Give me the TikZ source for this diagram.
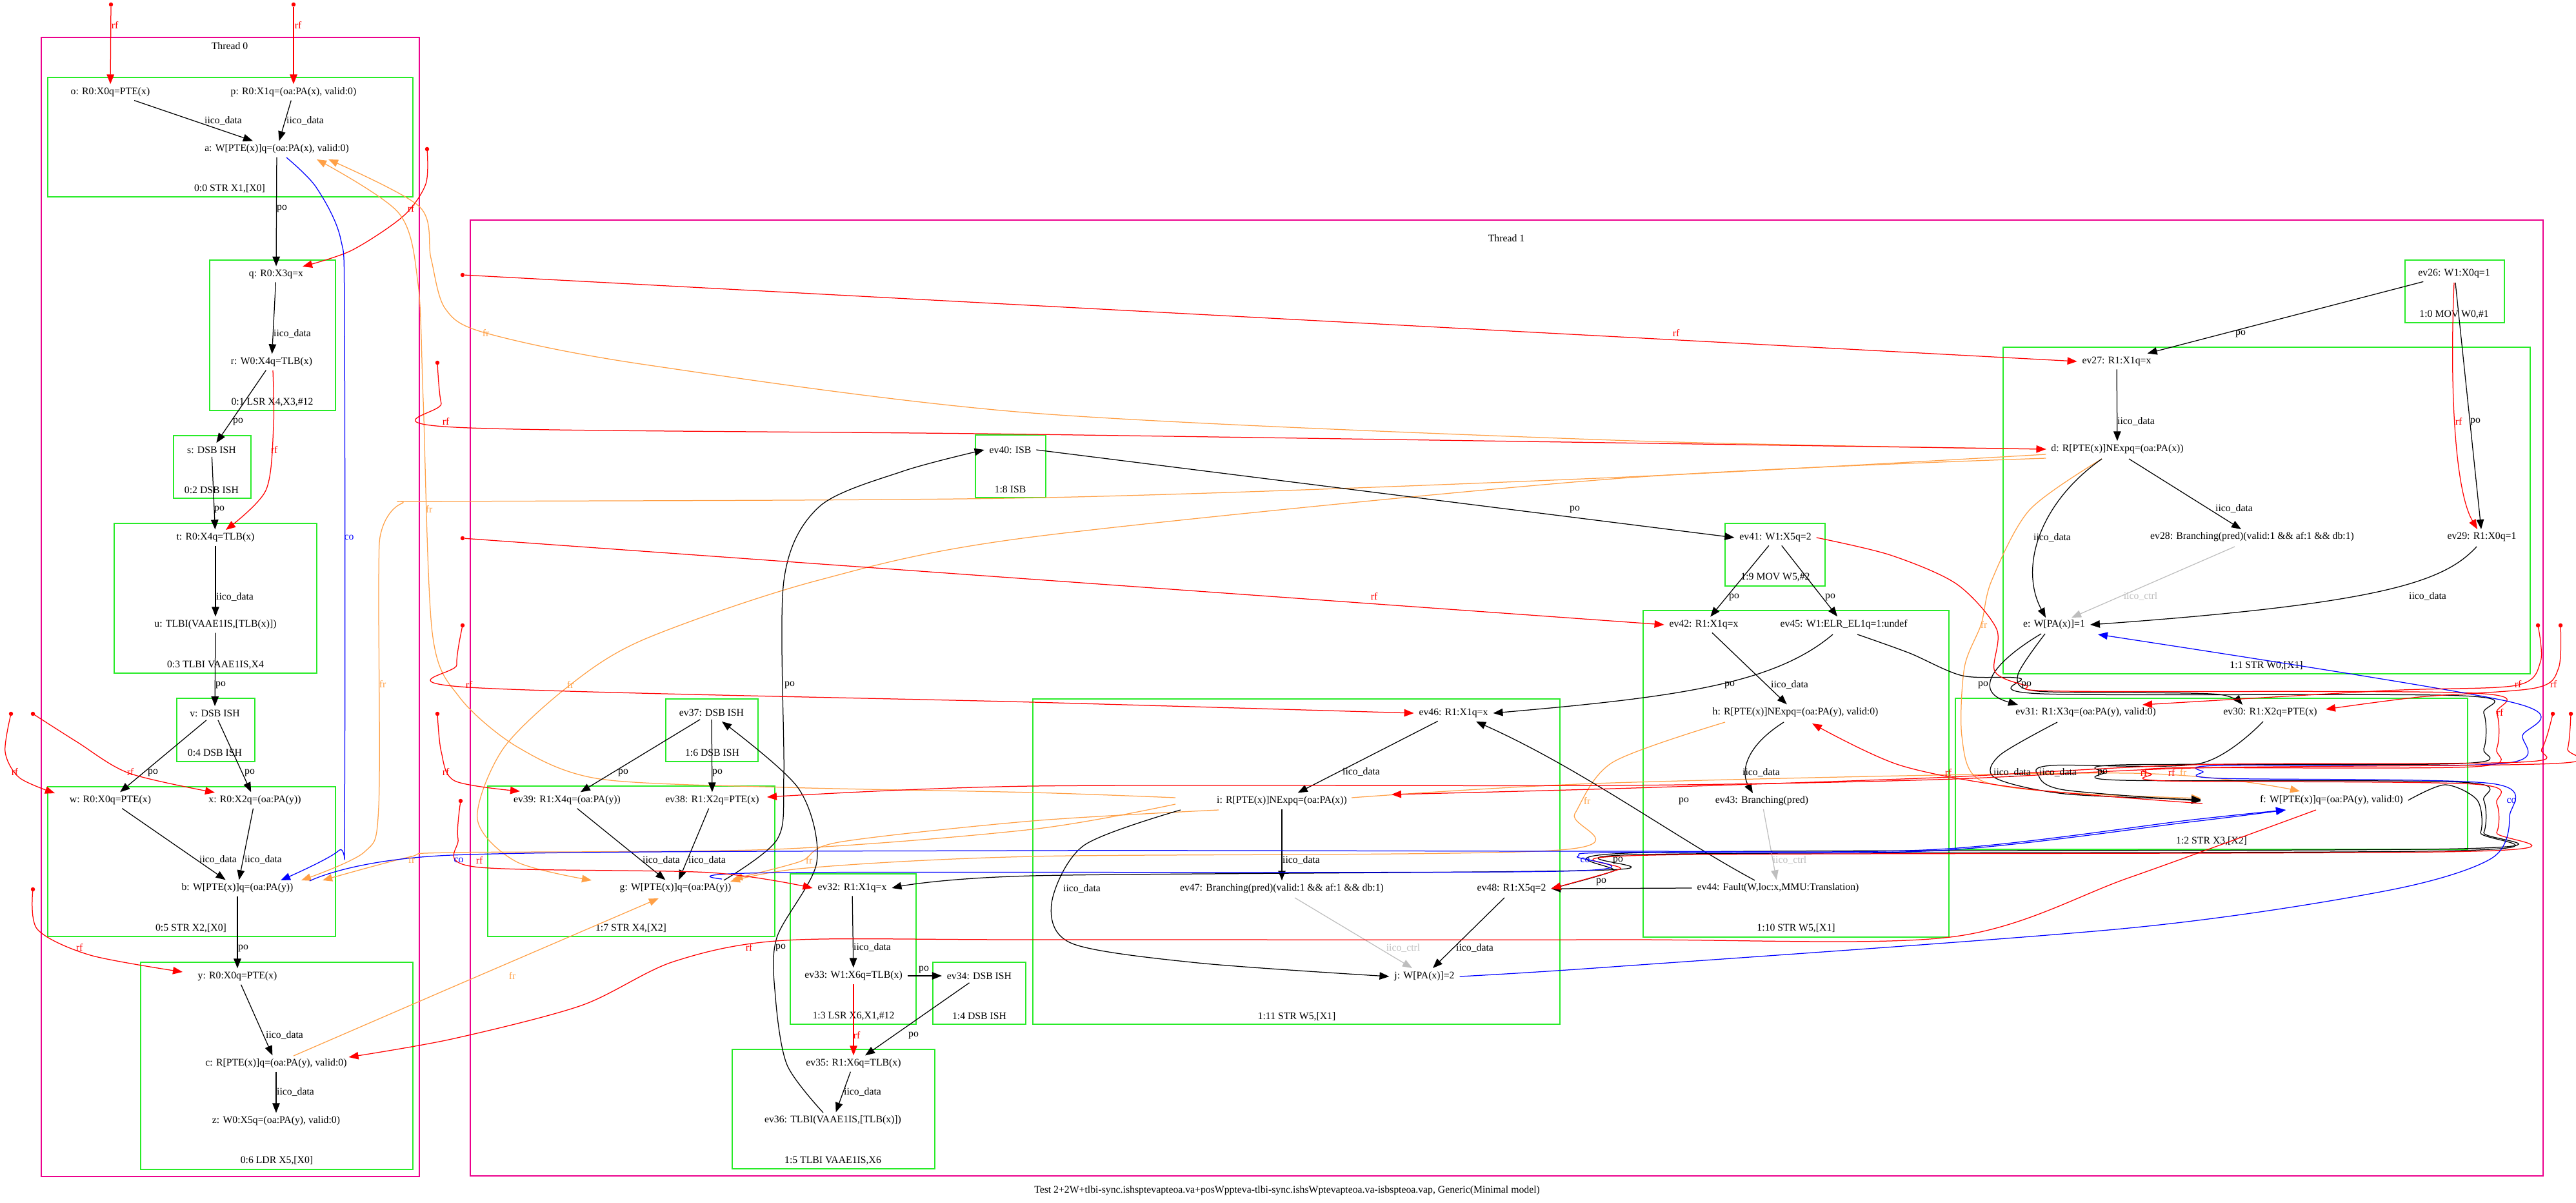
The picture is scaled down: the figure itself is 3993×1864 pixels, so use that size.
\documentclass[tikz,border=0pt]{standalone}
\usepackage{fontspec}
\setmainfont{Liberation Serif}
\usetikzlibrary{arrows.meta,calc}
\definecolor{clgreen}{RGB}{40,235,40}
\definecolor{frorange}{RGB}{255,160,70}
\definecolor{ctrlgray}{RGB}{190,190,190}
\newcommand\evf{\fontsize{6.3}{7.5}\selectfont}
\begin{document}
\begin{tikzpicture}[x=0.4pt,y=-0.4pt,
  ev/.style={inner xsep=3pt,inner ysep=2pt,font=\evf},
  lb/.style={font=\evf,inner sep=0pt},
  clbox/.style={draw=clgreen,line width=0.6pt},
  thbox/.style={draw=magenta,line width=0.6pt},
  arrhead/.style={-{Triangle[length=6pt,width=4.6pt]}},
  blk/.style={draw=black,line width=0.5pt,arrhead},
  rfe/.style={draw=red,line width=0.5pt,arrhead},
  fre/.style={draw=frorange,line width=0.5pt,arrhead},
  coe/.style={draw=blue,line width=0.5pt,arrhead},
  cte/.style={draw=ctrlgray,line width=0.5pt,arrhead},
  rdot/.style={circle,fill=red,inner sep=0pt,minimum size=2.6pt}]
\useasboundingbox (0,0) rectangle (3993,1864);
% ---------------- clusters ----------------
\draw[thbox] (64,58) rectangle (650,1823);
\node[lb] at (356,71) {Thread 0};
\draw[clbox] (74,120) rectangle (640,305);   \node[lb] at (356,292) {0:0 STR X1,[X0]};
\draw[clbox] (325,403) rectangle (520,636);  \node[lb] at (422,623) {0:1 LSR X4,X3,\#12};
\draw[clbox] (269,675) rectangle (389,772);  \node[lb] at (328,759) {0:2 DSB ISH};
\draw[clbox] (177,811) rectangle (491,1043); \node[lb] at (334,1030) {0:3 TLBI VAAE1IS,X4};
\draw[clbox] (274,1082) rectangle (395,1180);\node[lb] at (333,1166) {0:4 DSB ISH};
\draw[clbox] (74,1219) rectangle (520,1451); \node[lb] at (296,1438) {0:5 STR X2,[X0]};
\draw[clbox] (218,1491) rectangle (640,1812);\node[lb] at (429,1798) {0:6 LDR X5,[X0]};
\draw[thbox] (729,341) rectangle (3942,1822);
\node[lb] at (2335,369) {Thread 1};
\draw[clbox] (3728,403) rectangle (3882,500);  \node[lb] at (3804,487) {1:0 MOV W0,\#1};
\draw[clbox] (3105,538) rectangle (3922,1044); \node[lb] at (3513,1031) {1:1 STR W0,[X1]};
\draw[clbox] (3031,1082) rectangle (3825,1316);\node[lb] at (3428,1303) {1:2 STR X3,[X2]};
\draw[clbox] (1225,1354) rectangle (1420,1587);\node[lb] at (1323,1574) {1:3 LSR X6,X1,\#12};
\draw[clbox] (1446,1491) rectangle (1590,1587);\node[lb] at (1518,1574) {1:4 DSB ISH};
\draw[clbox] (1135,1626) rectangle (1449,1811);\node[lb] at (1291,1798) {1:5 TLBI VAAE1IS,X6};
\draw[clbox] (1032,1083) rectangle (1175,1180);\node[lb] at (1104,1166) {1:6 DSB ISH};
\draw[clbox] (756,1218) rectangle (1201,1451); \node[lb] at (978,1438) {1:7 STR X4,[X2]};
\draw[clbox] (1512,674) rectangle (1621,771);  \node[lb] at (1566,758) {1:8 ISB};
\draw[clbox] (2674,811) rectangle (2829,908);  \node[lb] at (2752,894) {1:9 MOV W5,\#2};
\draw[clbox] (2547,946) rectangle (3021,1452); \node[lb] at (2784,1438) {1:10 STR W5,[X1]};
\draw[clbox] (1601,1083) rectangle (2418,1587);\node[lb] at (2010,1575) {1:11 STR W5,[X1]};
\node[lb] at (1995,1845) {Test 2+2W+tlbi-sync.ishsptevapteoa.va+posWppteva-tlbi-sync.ishsWptevapteoa.va-isbspteoa.vap, Generic(Minimal model)};
% ---------------- nodes thread 0 ----------------
\node[ev] (o) at (171,143) {o: R0:X0q=PTE(x)};
\node[ev] (p) at (455,143) {p: R0:X1q=(oa:PA(x), valid:0)};
\node[ev] (a) at (429,231) {a: W[PTE(x)]q=(oa:PA(x), valid:0)};
\node[ev] (q) at (428,425) {q: R0:X3q=x};
\node[ev] (r) at (421,561) {r: W0:X4q=TLB(x)};
\node[ev] (s) at (328,697) {s: DSB ISH};
\node[ev] (t) at (334,833) {t: R0:X4q=TLB(x)};
\node[ev] (u) at (334,968) {u: TLBI(VAAE1IS,[TLB(x)])};
\node[ev] (v) at (333,1105) {v: DSB ISH};
\node[ev] (w) at (171,1240) {w: R0:X0q=PTE(x)};
\node[ev] (x) at (395,1240) {x: R0:X2q=(oa:PA(y))};
\node[ev] (b) at (368,1376) {b: W[PTE(x)]q=(oa:PA(y))};
\node[ev] (y) at (368,1513) {y: R0:X0q=PTE(x)};
\node[ev] (c) at (428,1648) {c: R[PTE(x)]q=(oa:PA(y), valid:0)};
\node[ev] (z) at (428,1737) {z: W0:X5q=(oa:PA(y), valid:0)};
% ---------------- nodes thread 1 ----------------
\node[ev] (ev26) at (3804,424) {ev26: W1:X0q=1};
\node[ev] (ev27) at (3281,560) {ev27: R1:X1q=x};
\node[ev] (d) at (3282,696) {d: R[PTE(x)]NExpq=(oa:PA(x))};
\node[ev] (ev28) at (3491,832) {ev28: Branching(pred)(valid:1 \&\& af:1 \&\& db:1)};
\node[ev] (ev29) at (3847,832) {ev29: R1:X0q=1};
\node[ev] (e) at (3184,968) {e: W[PA(x)]=1};
\node[ev] (ev31) at (3233,1104) {ev31: R1:X3q=(oa:PA(y), valid:0)};
\node[ev] (ev30) at (3519,1104) {ev30: R1:X2q=PTE(x)};
\node[ev] (f) at (3614,1240) {f: W[PTE(x)]q=(oa:PA(y), valid:0)};
\node[ev] (ev32) at (1321,1376) {ev32: R1:X1q=x};
\node[ev] (ev33) at (1323,1512) {ev33: W1:X6q=TLB(x)};
\node[ev] (ev34) at (1518,1512) {ev34: DSB ISH};
\node[ev] (ev35) at (1323,1648) {ev35: R1:X6q=TLB(x)};
\node[ev] (ev36) at (1291,1736) {ev36: TLBI(VAAE1IS,[TLB(x)])};
\node[ev] (ev37) at (1103,1104) {ev37: DSB ISH};
\node[ev] (ev39) at (879,1240) {ev39: R1:X4q=(oa:PA(y))};
\node[ev] (ev38) at (1104,1240) {ev38: R1:X2q=PTE(x)};
\node[ev] (g) at (1047,1376) {g: W[PTE(x)]q=(oa:PA(y))};
\node[ev] (ev40) at (1566,697) {ev40: ISB};
\node[ev] (ev41) at (2752,833) {ev41: W1:X5q=2};
\node[ev] (ev42) at (2641,968) {ev42: R1:X1q=x};
\node[ev] (ev45) at (2858,968) {ev45: W1:ELR\_EL1q=1:undef};
\node[ev] (h) at (2783,1104) {h: R[PTE(x)]NExpq=(oa:PA(y), valid:0)};
\node[ev] (ev43) at (2731,1241) {ev43: Branching(pred)};
\node[ev] (ev44) at (2756,1376) {ev44: Fault(W,loc:x,MMU:Translation)};
\node[ev] (ev46) at (2253,1105) {ev46: R1:X1q=x};
\node[ev] (i) at (1987,1241) {i: R[PTE(x)]NExpq=(oa:PA(x))};
\node[ev] (ev47) at (1987,1377) {ev47: Branching(pred)(valid:1 \&\& af:1 \&\& db:1)};
\node[ev] (ev48) at (2343,1377) {ev48: R1:X5q=2};
\node[ev] (j) at (2208,1513) {j: W[PA(x)]=2};
% ---------------- initial-state dots ----------------
\node[rdot] (d0a) at (172,7) {};
\node[rdot] (d0b) at (455,7) {};
\node[rdot] (d0c) at (662,231) {};
\node[rdot] (d0d) at (17,1106) {};
\node[rdot] (d0e) at (51,1106) {};
\node[rdot] (d0f) at (51,1378) {};
\node[rdot] (d1a) at (678,562) {};
\node[rdot] (d1b) at (717,426) {};
\node[rdot] (d1c) at (717,834) {};
\node[rdot] (d1d) at (717,969) {};
\node[rdot] (d1e) at (678,1106) {};
\node[rdot] (d1f) at (714,1241) {};
\node[rdot] (d1g) at (3934,969) {};
\node[rdot] (d1h) at (3969,969) {};
\node[rdot] (d1i) at (3957,1106) {};
\node[rdot] (d1j) at (3985,1106) {};
% ---------------- thread 0 edges ----------------
\draw[rfe] (d0a) -- (o);
\draw[rfe] (d0b) -- (p);
\draw[blk] (o) -- (a);
\draw[blk] (p) -- (a);
\draw[blk] (a) -- (q);
\draw[rfe] plot[smooth] coordinates {(d0c) (660,285) (625,335) (545,388) ($(q)+(41,-12)$)};
\draw[blk] (q) -- (r);
\draw[blk] (r) -- (s);
\draw[rfe] plot[smooth] coordinates {($(r)+(2,13)$) (424,660) (412,760) ($(t)+(16,-12)$)};
\draw[blk] (s) -- (t);
\draw[blk] (t) -- (u);
\draw[blk] (u) -- (v);
\draw[blk] (v) -- (w);
\draw[blk] (v) -- (x);
\draw[rfe] plot[smooth] coordinates {(d0d) (8,1165) (30,1205) ($(w)+(-86,-11)$)};
\draw[rfe] plot[smooth] coordinates {(d0e) (120,1150) (200,1198) ($(x)+(-62,-12)$)};
\draw[blk] (w) -- (b);
\draw[blk] (x) -- (b);
\draw[blk] (b) -- (y);
\draw[rfe] plot[smooth] coordinates {(d0f) (58,1440) (140,1480) ($(y)+(-85,-7)$)};
\draw[blk] (y) -- (c);
\draw[blk] (c) -- (z);
\draw[coe] plot[smooth] coordinates {($(a)+(15,13)$) (490,290) (528,370) (534,500) (534,1270) (525,1318) ($(b)+(67,-12)$)};
% ---------------- fr edges ----------------
\draw[fre] plot[smooth] coordinates {(d.west) (2500,682) (1600,640) (1000,565) (753,516) (690,478) (668,400) (650,320) ($(a)+(80,16)$)};
\draw[fre] plot[smooth] coordinates {($(i)+(-165,-5)$) (1600,1228) (1217,1220) (930,1207) (803,1158) (712,1080) (670,980) (656,620) (648,440) (618,330) ($(a)+(62,16)$)};
\draw[fre] plot[smooth] coordinates {($(d.west)+(0,8)$) (2500,740) (1621,771) (700,777) (623,780) (592,820) (587,900) (587,1250) (565,1320) ($(b)+(99,-12)$)};
\draw[fre] plot[smooth] coordinates {($(i)+(-165,5)$) (1600,1285) (1200,1316) (700,1321) (634,1328) ($(b)+(132,-12)$)};
\draw[fre] plot[smooth] coordinates {($(d.west)+(0,14)$) (2500,742) (1600,832) (1265,900) (1000,990) (884,1061) (780,1160) (740,1269) (800,1335) ($(g)+(-130,-12)$)};
\draw[fre] ($(c)+(27,-12)$) -- (700,1530) -- ($(g)+(-26,16)$);
\draw[fre] plot[smooth] coordinates {($(i)+(-98,14)$) (1600,1272) (1300,1305) (1240,1335) ($(g)+(89,-14)$)};
\draw[fre] plot[smooth] coordinates {($(h)+(-109,15)$) (2500,1181) (2441,1261) (2418,1317) (1600,1327) (1250,1345) ($(g)+(85,-10)$)};
\draw[fre] plot[smooth] coordinates {($(d)+(-24,15)$) (3146,790) (3087,900) (3071,967) (3045,1034) (3041,1141) (3068,1208) (3200,1228) ($(f)+(-202,-3)$)};
\draw[fre] plot[smooth] coordinates {($(i)+(108,-5)$) (2500,1213) (3300,1198) ($(f)+(-49,-14)$)};
% ---------------- thread 1 black / gray edges ----------------
\draw[blk] (ev26) -- (ev27);
\draw[blk] ($(ev26)+(2,14)$) -- ($(ev29)+(-1,-12)$);
\draw[rfe] ($(ev26)+(0,14)$) .. controls (3797,600) and (3805,760) .. ($(ev29)+(-7,-12)$);
\draw[blk] (ev27) -- (d);
\draw[blk] ($(d)+(-24,15)$) .. controls (3160,780) and (3130,880) .. ($(e)+(-13,-11)$);
\draw[blk] ($(d)+(18,15)$) -- ($(ev28)+(-17,-12)$);
\draw[cte] ($(ev28)+(-27,15)$) -- ($(e)+(27,-11)$);
\draw[blk] ($(ev29)+(-8,15)$) .. controls (3790,900) and (3700,935) .. (e.east);
\draw[blk] ($(e)+(-20,14)$) .. controls (3100,1020) and (3050,1070) .. ($(ev31)+(-105,-12)$);
\draw[blk] plot[smooth] coordinates {($(e)+(-14,14)$) (3128,1045) (3150,1070) (3300,1073) (3440,1076) ($(ev30)+(-43,-12)$)};
\draw[blk] plot[smooth] coordinates {($(ev31)+(-44,15)$) (3100,1170) (3092,1205) (3200,1230) ($(f)+(-202,-1)$)};
\draw[blk] plot[smooth] coordinates {($(ev30)+(-11,14)$) (3410,1183) (3180,1186) (3160,1202) (3200,1224) ($(f)+(-202,1)$)};
\draw[blk] plot[smooth] coordinates {(f.east) (3790,1216) (3840,1240) (3845,1290) (3810,1318) (2545,1324) (2490,1348) (1600,1357) (ev32.east)};
\draw[blk] (ev32) -- (ev33);
\draw[blk] (ev33) -- (ev34);
\draw[rfe] (ev33) -- (ev35);
\draw[blk] (ev34) -- (ev35);
\draw[blk] (ev35) -- (ev36);
\draw[blk] plot[smooth] coordinates {($(ev36)+(-15,-12)$) (1220,1650) (1202,1545) (1204,1453) (1266,1336) (1238,1222) ($(ev37)+(16,14)$)};
\draw[blk] (ev37) -- (ev39);
\draw[blk] (ev37) -- (ev38);
\draw[blk] (ev39) -- (g);
\draw[blk] (ev38) -- (g);
\draw[blk] plot[smooth] coordinates {($(g)+(75,-12)$) (1205,1300) (1215,1200) (1215,900) (1270,785) (1400,730) (ev40.west)};
\draw[blk] (ev40.east) -- (ev41.west);
\draw[blk] (ev41) -- (ev42);
\draw[blk] (ev41) -- (ev45);
\draw[blk] (ev42) -- (h);
\draw[blk] ($(ev45)+(-17,15)$) .. controls (2750,1060) and (2600,1080) .. (ev46.east);
\draw[blk] ($(h)+(-18,15)$) .. controls (2700,1160) and (2700,1200) .. ($(ev43)+(-14,-12)$);
\draw[cte] (ev43) -- (ev44);
\draw[blk] ($(ev44)+(-36,-12)$) .. controls (2600,1300) and (2450,1190) .. ($(ev46)+(35,13)$);
\draw[blk] (ev44.west) -- (ev48.east);
\draw[blk] (ev46) -- (i);
\draw[blk] (i) -- (ev47);
\draw[blk] plot[smooth] coordinates {($(i)+(-157,14)$) (1680,1310) (1630,1400) (1662,1462) (1857,1492) (j.west)};
\draw[cte] ($(ev47)+(20,14)$) -- ($(j)+(-19,-13)$);
\draw[blk] ($(ev48)+(-11,14)$) -- ($(j)+(13,-13)$);
% snake edges round the right side
\draw[blk] plot[smooth] coordinates {($(ev45)+(21,15)$) (2960,1012) (3042,1047) (3131,1051) (3165,1075) (3815,1078) (3850,1105) (3850,1160) (3815,1183) (3290,1185) (3262,1197) (3290,1209) (3815,1212) (3850,1240) (3850,1290) (3815,1315) (2550,1321) (2500,1350) (ev48.east)};
\draw[rfe] plot[smooth] coordinates {(ev41.east) (2930,860) (3033,905) (3095,975) (3092,1040) (3140,1062) (3200,1071) (3835,1074) (3870,1105) (3870,1160) (3835,1188) (3360,1190) (3335,1200) (3360,1210) (3835,1215) (3870,1245) (3870,1290) (3835,1319) (2560,1325) (2510,1347) (ev48.east)};
\draw[coe] plot[smooth] coordinates {(j.east) (2500,1498) (3300,1438) (3700,1380) (3862,1330) (3890,1265) (3862,1214) (3440,1206) (3415,1196) (3440,1186) (3880,1183) (3910,1140) (3893,1088) ($(e.east)+(12,15)$)};
\draw[coe] plot[smooth] coordinates {($(b)+(112,-11)$) (700,1325) (1600,1318) (2500,1319) (3004,1316) (3400,1270) ($(f)+(-71,15)$)};
\draw[coe] plot[smooth] coordinates {($(g)+(72,-14)$) (1217,1352) (2418,1350) (2445,1327) (2500,1321) (3004,1318) (3400,1273) ($(f)+(-71,15)$)};
% ---------------- thread 1 rf edges ----------------
\draw[rfe] plot[smooth] coordinates {(d1a) (684,625) (705,662) (1600,673) (d.west)};
\draw[rfe] (d1b) -- (ev27.west);
\draw[rfe] (d1c) -- (ev42.west);
\draw[rfe] plot[smooth] coordinates {(d1d) (708,1030) (727,1065) (1600,1088) (ev46.west)};
\draw[rfe] plot[smooth] coordinates {(d1e) (684,1165) (705,1210) ($(ev39)+(-73,-14)$)};
\draw[rfe] plot[smooth] coordinates {(d1f) (710,1300) (735,1343) (1100,1352) (ev32.west)};
\draw[rfe] plot[smooth] coordinates {(d1g) (3938,1025) (3900,1062) (3700,1070) ($(ev31)+(88,-12)$)};
\draw[rfe] plot[smooth] coordinates {(d1h) (3966,1035) (3930,1066) (3750,1080) ($(ev30)+(86,-5)$)};
\draw[rfe] plot[smooth] coordinates {(d1i) (3940,1160) (3905,1181) (3400,1185) (3000,1205) (2500,1222) ($(i)+(170,-10)$)};
\draw[rfe] plot[smooth] coordinates {(d1j) (3980,1160) (3960,1183) (3400,1190) (3000,1208) (2500,1217) (1600,1218) ($(ev38)+(85,-5)$)};
\draw[rfe] plot[smooth] coordinates {($(f)+(-24,15)$) (3300,1360) (3023,1452) (2500,1456) (1600,1456) (1217,1457) (1044,1490) (901,1558) (700,1610) ($(c.east)+(-5,-10)$)};
\draw[rfe] plot[smooth] coordinates {($(f)+(-200,5)$) (3138,1222) (2946,1186) ($(h)+(26,17)$)};
% ---------------- edge labels ----------------
\begin{scope}[every node/.style={lb}]
\node[text=red] at (178,39) {rf}; \node[text=red] at (462,39) {rf};
\node at (346,187) {iico\_data}; \node at (473,187) {iico\_data};
\node at (437,323) {po}; \node[text=red] at (637,323) {rf};
\node at (453,517) {iico\_data}; \node at (369,653) {po};
\node[text=red] at (425,697) {rf}; \node at (340,789) {po};
\node[text=blue] at (541,833) {co}; \node at (364,925) {iico\_data};
\node at (342,1061) {po};
\node[text=frorange] at (593,1060) {fr}; \node[text=frorange] at (665,789) {fr};
\node[text=red] at (23,1196) {rf}; \node[text=red] at (202,1196) {rf};
\node at (237,1197) {po}; \node at (387,1197) {po};
\node at (338,1332) {iico\_data}; \node at (408,1332) {iico\_data};
\node[text=frorange] at (638,1332) {fr};
\node at (377,1469) {po}; \node[text=red] at (123,1468) {rf};
\node at (441,1604) {iico\_data}; \node at (458,1692) {iico\_data};
\node[text=frorange] at (753,516) {fr};
\node[text=red] at (691,653) {rf};
\node[text=red] at (2598,516) {rf};
\node[text=red] at (2130,924) {rf};
\node at (2441,789) {po};
\node[text=red] at (727,1061) {rf};
\node[text=frorange] at (884,1061) {fr};
\node at (1224,1061) {po};
\node at (966,1197) {po}; \node at (1112,1197) {po};
\node[text=red] at (691,1196) {rf};
\node[text=blue] at (711,1333) {co}; \node[text=red] at (743,1333) {rf};
\node at (1025,1333) {iico\_data}; \node at (1096,1333) {iico\_data};
\node[text=frorange] at (1254,1333) {fr};
\node[text=red] at (1161,1468) {rf};
\node at (1210,1468) {po};
\node at (1352,1468) {iico\_data};
\node[text=frorange] at (794,1512) {fr};
\node at (1432,1502) {po};
\node[text=red] at (1328,1604) {rf};
\node at (1416,1604) {po};
\node at (1337,1692) {iico\_data};
\node at (2110,1196) {iico\_data};
\node[text=frorange] at (2460,1241) {fr};
\node at (2017,1333) {iico\_data};
\node[text=blue] at (2457,1333) {co};
\node at (2482,1366) {po};
\node at (1677,1377) {iico\_data};
\node[text=ctrlgray] at (2175,1469) {iico\_ctrl};
\node at (2286,1469) {iico\_data};
\node at (2688,925) {po}; \node at (2837,925) {po};
\node at (2681,1061) {po}; \node at (2774,1061) {iico\_data};
\node at (2730,1197) {iico\_data};
\node at (2610,1241) {po};
\node[text=ctrlgray] at (2774,1333) {iico\_ctrl};
\node at (2508,1333) {po};
\node at (3473,517) {po};
\node[text=red] at (3811,653) {rf}; \node at (3837,653) {po};
\node at (3311,653) {iico\_data};
\node at (3463,788) {iico\_data};
\node at (3181,833) {iico\_data};
\node[text=ctrlgray] at (3318,924) {iico\_ctrl};
\node at (3763,924) {iico\_data};
\node[text=frorange] at (3075,968) {fr};
\node at (3074,1061) {po}; \node at (3141,1061) {po};
\node[text=red] at (3903,1060) {rf}; \node[text=red] at (3958,1060) {rf};
\node[text=red] at (3875,1104) {rf};
\node[text=red] at (3020,1197) {rf};
\node at (3119,1197) {iico\_data}; \node at (3190,1197) {iico\_data};
\node at (3259,1197) {po};
\node[text=red] at (3323,1197) {rf}; \node[text=red] at (3366,1197) {rf};
\node[text=frorange] at (3384,1197) {fr};
\node[text=blue] at (3893,1241) {co};
\end{scope}
\end{tikzpicture}
\end{document}
